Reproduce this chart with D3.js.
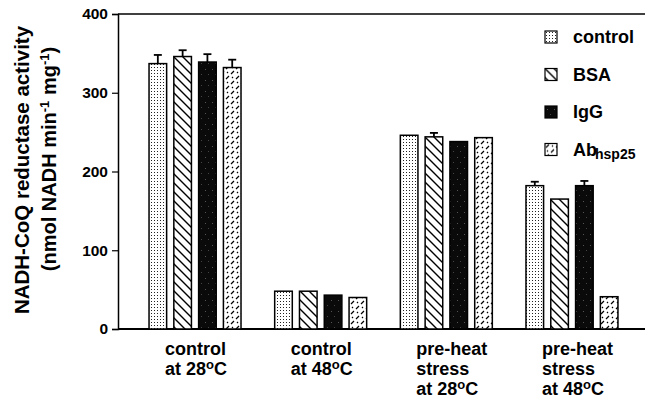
<!DOCTYPE html>
<html>
<head>
<meta charset="utf-8">
<script src="https://cdn.jsdelivr.net/npm/d3@7"></script>
<style>
  body { margin: 0; background: #fff; }
  svg text { font-family: 'Liberation Sans', Arial, sans-serif; font-weight: bold; fill: #000; }
</style>
</head>
<body>
<svg id="chart" width="645" height="401"></svg>
<script>
const groups = ['c28', 'c48', 'p28', 'p48'];
const groupLabels = [
  ['control', 'at 28|C'],
  ['control', 'at 48|C'],
  ['pre-heat', 'stress', 'at 28|C'],
  ['pre-heat', 'stress', 'at 48|C'],
];
const series = ['control', 'BSA', 'IgG', 'Ab'];
const controlVals = [337, 48, 246, 182];
const bsaVals = [346, 48, 244, 165];
const iggVals = [339, 43, 238, 182];
const abVals = [332, 40, 243, 41];
const controlErr = [11, 0, 0, 5];
const bsaErr = [8, 0, 5, 0];
const iggErr = [10, 0, 0, 6];
const abErr = [10, 0, 0, 0];
const yTicks = [0, 100, 200, 300, 400];

const values = [controlVals, bsaVals, iggVals, abVals];
const errors = [controlErr, bsaErr, iggErr, abErr];

const svg = d3.select('#chart');
const width = +svg.attr('width');
const margin = { top: 14, left: 118, bottom: 72 };
const height = +svg.attr('height');

// patterns
const defs = svg.append('defs');
const dots = defs.append('pattern').attr('id', 'p-control')
  .attr('patternUnits', 'userSpaceOnUse').attr('width', 3).attr('height', 3);
dots.append('rect').attr('width', 3).attr('height', 3).attr('fill', '#fff');
dots.append('rect').attr('x', 1).attr('y', 1).attr('width', 1).attr('height', 1).attr('fill', '#222');

const hatch = defs.append('pattern').attr('id', 'p-BSA')
  .attr('patternUnits', 'userSpaceOnUse').attr('width', 9).attr('height', 9);
hatch.append('rect').attr('width', 9).attr('height', 9).attr('fill', '#fff');
hatch.append('path').attr('d', 'M-1,-1L10,10M-1,8L1,10M8,-1L10,1')
  .attr('stroke', '#000').attr('stroke-width', 1.4);

const dark = defs.append('pattern').attr('id', 'p-IgG')
  .attr('patternUnits', 'userSpaceOnUse').attr('width', 7).attr('height', 11);
dark.append('rect').attr('width', 7).attr('height', 11).attr('fill', '#0a0a0a');
dark.append('rect').attr('x', 2).attr('y', 3).attr('width', 1).attr('height', 1).attr('fill', '#555');
dark.append('rect').attr('x', 5).attr('y', 8).attr('width', 1).attr('height', 1).attr('fill', '#444');

const dash = defs.append('pattern').attr('id', 'p-Ab')
  .attr('patternUnits', 'userSpaceOnUse').attr('width', 10).attr('height', 10);
dash.append('rect').attr('width', 10).attr('height', 10).attr('fill', '#fff');
dash.append('path').attr('d', 'M1,4L4,1M6,9L9,6M2,7L3,8M7,2L8,3')
  .attr('stroke', '#000').attr('stroke-width', 1.2);

const y = d3.scaleLinear()
  .domain([0, 400])
  .range([height - margin.bottom, margin.top]);

const x0 = d3.scaleBand()
  .domain(groups)
  .range([margin.left, 649])
  .paddingInner(0.268)
  .paddingOuter(0.247);

const x1 = d3.scaleBand()
  .domain(series)
  .range([0, x0.bandwidth()])
  .paddingInner(0.29)
  .paddingOuter(0);

// frame lines
svg.append('line')
  .attr('x1', margin.left).attr('x2', width)
  .attr('y1', y(400)).attr('y2', y(400))
  .attr('stroke', '#000').attr('stroke-width', 1.5);

const yAxis = d3.axisLeft(y).tickValues(yTicks).tickSize(6).tickPadding(4);
const yg = svg.append('g')
  .attr('transform', 'translate(' + margin.left + ',0)')
  .call(yAxis);
yg.select('.domain').attr('stroke-width', 1.5);
yg.selectAll('.tick line').attr('stroke-width', 1.2);
yg.selectAll('.tick text').style('font-size', '15.5px');

svg.append('line')
  .attr('x1', margin.left).attr('x2', width)
  .attr('y1', y(0)).attr('y2', y(0))
  .attr('stroke', '#000').attr('stroke-width', 2);

// bars
const rows = [];
groups.forEach((g, gi) => {
  series.forEach((s, si) => {
    rows.push({ group: g, s: s, v: values[si][gi], e: errors[si][gi] });
  });
});

const barG = svg.append('g');
barG.selectAll('rect')
  .data(rows)
  .enter()
  .append('rect')
  .attr('x', d => x0(d.group) + x1(d.s))
  .attr('width', x1.bandwidth())
  .attr('y', d => y(d.v))
  .attr('height', d => y(0) - y(d.v))
  .attr('fill', d => 'url(#p-' + d.s + ')')
  .attr('stroke', '#000')
  .attr('stroke-width', 1.5);

const errG = svg.append('g').attr('stroke', '#000').attr('stroke-width', 1.8);
rows.filter(d => d.e > 0).forEach(d => {
  const cx = x0(d.group) + x1(d.s) + x1.bandwidth() / 2;
  errG.append('line').attr('x1', cx).attr('x2', cx)
    .attr('y1', y(d.v)).attr('y2', y(d.v + d.e));
  errG.append('line').attr('x1', cx - 4).attr('x2', cx + 4)
    .attr('y1', y(d.v + d.e)).attr('y2', y(d.v + d.e));
});

// category labels
const labG = svg.append('g');
groupLabels.forEach((lines, gi) => {
  const t = labG.append('text')
    .attr('x', x0(groups[gi]) + 16)
    .attr('y', y(0) + 26)
    .style('font-size', '18px');
  lines.forEach((ln, li) => {
    const parts = ln.split('|');
    t.append('tspan')
      .attr('x', x0(groups[gi]) + 16)
      .attr('dy', li === 0 ? 0 : 20)
      .text(parts[0]);
    if (parts.length > 1) {
      t.append('tspan').attr('dy', -6).style('font-size', '13px').text('o');
      t.append('tspan').attr('dy', 6).text(parts[1]);
    }
  });
});

// y title
svg.append('g').attr('transform', 'translate(22,170) rotate(-90)')
  .append('text')
  .attr('text-anchor', 'middle')
  .attr('dy', '0.35em')
  .style('font-size', '20.5px')
  .text('NADH-CoQ reductase activity');
const t2 = svg.append('g').attr('transform', 'translate(49,159) rotate(-90)')
  .append('text')
  .attr('text-anchor', 'middle')
  .attr('dy', '0.35em')
  .style('font-size', '20px');
t2.append('tspan').text('(nmol NADH min');
t2.append('tspan').attr('dy', -7).style('font-size', '13px').text('-1');
t2.append('tspan').attr('dy', 7).text(' mg');
t2.append('tspan').attr('dy', -7).style('font-size', '13px').text('-1');
t2.append('tspan').attr('dy', 7).text(')');

// legend
const legendNames = ['control', 'BSA', 'IgG', 'Ab'];
const leg = svg.append('g').attr('transform', 'translate(545,31)');
const item = leg.selectAll('g')
  .data(series)
  .enter()
  .append('g')
  .attr('transform', (d, i) => 'translate(0,' + i * 37.5 + ')');
item.append('rect')
  .attr('width', 12).attr('height', 12)
  .attr('fill', d => 'url(#p-' + d + ')')
  .attr('stroke', '#000').attr('stroke-width', 1.2);
const lt = item.append('text')
  .attr('x', 28).attr('y', 12)
  .style('font-size', '18px');
lt.filter(d => d !== 'Ab').text((d, i) => legendNames[i]);
const abText = lt.filter(d => d === 'Ab');
abText.append('tspan').text('Ab');
abText.append('tspan').attr('dy', 3).style('font-size', '14px').attr('dx', -2).text('hsp25');
</script>
</body>
</html>
